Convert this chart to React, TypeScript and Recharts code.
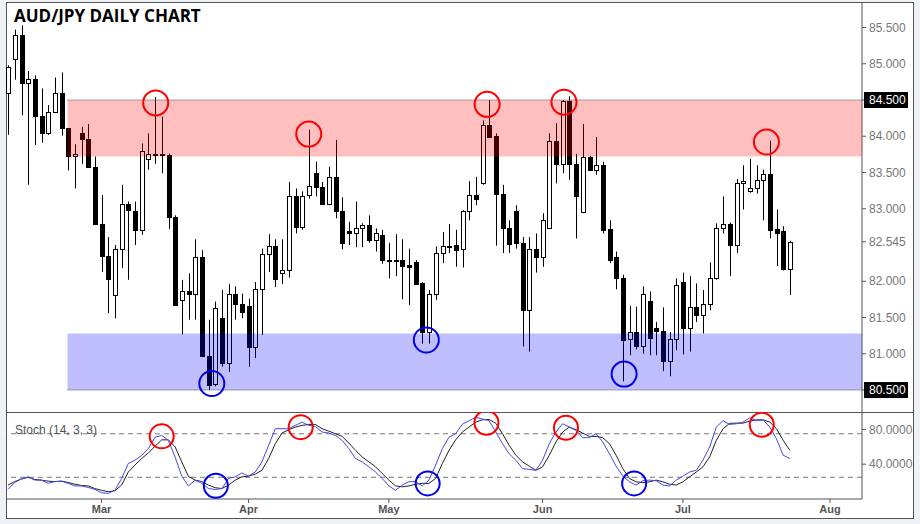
import { ComposedChart, LineChart, Bar, Line, XAxis, YAxis, ReferenceArea, ReferenceLine, ReferenceDot } from 'recharts';

// daily bars, Feb 9 .. Jul 24 (weekdays), index = bar number
const openP = [84.59, 85.06, 85.40, 84.73, 84.79, 84.28, 84.05, 84.33, 84.59, 84.11, 83.73, 84.04, 83.96, 83.58, 82.79, 82.35, 81.81, 82.45, 83.07, 82.97,
  82.71, 83.68, 83.76, 83.75, 83.74, 82.89, 81.74, 81.86, 81.83, 82.34, 80.97, 80.59, 81.49, 80.87, 81.82, 81.68, 81.66, 81.10, 81.90, 82.38,
  82.48, 82.12, 82.15, 83.17, 82.75, 83.19, 83.50, 83.30, 83.06, 83.44, 82.97, 82.69, 82.66, 82.73, 82.77, 82.57, 82.64, 82.30, 82.29, 82.29,
  82.22, 82.27, 81.97, 81.30, 81.83, 82.39, 82.48, 82.50, 82.44, 82.97, 83.19, 83.36, 84.16, 84.00, 83.21, 82.74, 82.97, 82.53, 81.61, 82.45,
  82.33, 82.73, 83.93, 83.62, 84.48, 83.62, 82.95, 83.72, 83.53, 83.61, 82.72, 82.34, 82.05, 81.20, 81.30, 81.11, 81.73, 81.35, 81.32, 80.90,
  81.21, 81.99, 81.35, 81.65, 81.53, 81.68, 82.05, 82.74, 82.79, 82.50, 83.36, 83.24, 83.29, 83.39, 83.48, 82.72, 82.69, 82.17];
const highP = [84.98, 85.47, 85.53, 84.90, 84.84, 84.66, 84.43, 84.81, 84.88, 84.11, 83.89, 84.13, 84.17, 83.72, 83.19, 82.61, 82.50, 83.33, 83.10, 83.10,
  83.90, 84.04, 84.54, 84.27, 83.76, 82.91, 82.02, 82.11, 82.58, 82.43, 81.47, 81.72, 81.88, 81.96, 81.93, 81.83, 81.76, 81.99, 82.45, 82.65,
  82.58, 82.58, 83.37, 83.28, 83.24, 84.09, 83.65, 83.37, 83.58, 83.95, 83.16, 82.82, 83.10, 82.80, 82.91, 82.73, 82.71, 82.53, 82.65, 82.58,
  82.45, 82.29, 81.99, 81.88, 82.48, 82.68, 82.79, 82.71, 82.98, 83.38, 83.44, 84.22, 84.50, 84.04, 83.33, 82.84, 83.05, 82.61, 82.61, 82.66,
  82.94, 84.04, 84.18, 84.50, 84.55, 83.76, 84.17, 83.73, 83.99, 83.65, 82.84, 82.41, 82.09, 81.66, 81.65, 81.93, 81.86, 81.44, 81.64, 81.30,
  82.04, 82.12, 82.07, 81.97, 81.88, 82.26, 82.80, 83.17, 82.81, 83.41, 83.60, 83.69, 83.60, 83.54, 83.94, 82.99, 82.76, 82.56];
const lowP = [84.02, 84.78, 84.29, 83.33, 83.88, 83.91, 84.02, 84.32, 84.01, 83.53, 83.28, 83.62, 83.58, 82.79, 82.13, 81.56, 81.49, 82.18, 82.02, 82.50,
  82.64, 83.54, 83.62, 83.49, 82.72, 81.67, 81.27, 81.47, 81.47, 80.97, 80.50, 80.55, 80.82, 80.75, 81.47, 81.49, 80.82, 80.94, 81.26, 82.13,
  81.92, 81.96, 82.05, 82.66, 82.71, 83.14, 83.17, 83.06, 83.05, 82.87, 82.44, 82.50, 82.47, 82.47, 82.53, 82.41, 82.24, 82.04, 82.07, 81.75,
  81.67, 81.96, 81.14, 81.14, 81.74, 82.25, 82.39, 82.20, 82.19, 82.84, 83.05, 83.33, 83.99, 82.49, 82.39, 82.39, 82.45, 81.10, 81.03, 82.12,
  82.20, 82.72, 83.35, 83.49, 83.40, 82.59, 82.94, 83.53, 83.47, 82.66, 82.25, 81.89, 80.62, 80.98, 81.06, 81.00, 80.98, 80.98, 80.76, 80.69,
  81.05, 80.99, 81.03, 81.44, 81.28, 81.60, 82.02, 82.66, 82.07, 82.39, 82.99, 83.22, 83.21, 82.84, 82.59, 82.21, 82.15, 81.81];
const closeP = [84.96, 85.40, 84.73, 84.79, 84.28, 84.04, 84.33, 84.59, 84.11, 83.73, 83.75, 83.96, 83.58, 82.79, 82.35, 82.03, 82.45, 83.07, 82.98, 82.71,
  83.79, 83.76, 83.75, 83.74, 82.89, 81.67, 81.86, 81.83, 82.34, 80.97, 80.57, 81.63, 80.87, 81.82, 81.68, 81.58, 81.10, 81.90, 82.37, 82.48,
  82.03, 82.16, 83.17, 82.75, 83.18, 83.31, 83.30, 83.06, 83.44, 82.97, 82.53, 82.66, 82.73, 82.77, 82.57, 82.66, 82.30, 82.29, 82.30, 82.21,
  82.19, 81.96, 81.30, 81.83, 82.39, 82.48, 82.49, 82.43, 82.97, 83.19, 83.13, 84.16, 83.99, 83.21, 82.74, 82.52, 82.53, 81.61, 82.45, 82.33,
  82.84, 83.93, 83.62, 84.48, 83.62, 83.17, 83.72, 83.53, 83.61, 82.71, 82.29, 82.05, 81.19, 81.30, 81.11, 81.82, 81.22, 81.32, 80.90, 81.21,
  81.95, 81.35, 81.65, 81.53, 81.68, 82.05, 82.74, 82.79, 82.50, 83.36, 83.38, 83.29, 83.39, 83.48, 82.71, 82.66, 82.17, 82.545];

// Stoch (14, 3, 3): %K blue, %D black
const stochK = [11, 19, 23, 25.5, 21.7, 21.7, 18, 20, 20.5, 18, 15, 15, 13.3, 11, 7.2, 6.5, 10, 23.6, 40.8, 44.6,
  50, 58, 71, 73, 67.4, 48.4, 26.3, 15, 21.7, 18, 12, 11, 12, 23.6, 25.5, 30, 26.3, 31, 42.7, 61.7,
  80.8, 80.8, 80.8, 84.6, 88.4, 84.6, 83.4, 77, 75.8, 73, 67.4, 58, 46.5, 42.7, 37, 31, 23.6, 15, 10, 16,
  20, 20, 15, 21.7, 39, 58, 71, 75, 86, 90, 94, 92, 90, 77, 63.6, 52, 44.6, 35, 34, 33,
  44.6, 63.6, 77, 86.5, 82.7, 78.9, 70.5, 70.5, 75, 65.5, 52, 37.7, 26.3, 19.8, 16, 21, 21.7, 21, 16, 15,
  21.7, 26.3, 31, 33, 44.6, 59.8, 82.7, 90, 85.7, 86.5, 88.4, 93.3, 90, 91, 82.7, 69.3, 50.3, 46.5];
const stochD = [16, 20, 23, 25, 22.5, 21.7, 20.5, 20, 20.5, 19, 17, 15.6, 15, 12, 10, 8.4, 9.5, 16, 31, 39,
  46.5, 53, 60.6, 68, 68, 60, 42.7, 26, 21.7, 20, 16, 13, 12, 16, 21.7, 25.5, 26.3, 28.6, 33, 46.5,
  63.6, 75.8, 79.6, 82.7, 84.6, 85.7, 85.7, 80.8, 78, 75, 72, 64.4, 56, 48.4, 42.7, 37, 29.3, 21.7, 15, 14,
  15, 17, 18, 18, 23.6, 40.8, 56, 68, 77, 82.7, 88.4, 91, 91.4, 87, 75, 61.7, 50.3, 42.7, 37.7, 33,
  37, 50.3, 65.5, 77, 82.7, 79.6, 75.8, 72, 72, 70.5, 63.6, 50.3, 35, 23.6, 19.8, 18.7, 19.8, 21.7, 19.8, 17,
  16, 19.8, 25.5, 31, 37, 48.4, 67.4, 80.8, 87, 87.2, 87.2, 89.5, 91, 91, 88.4, 80.8, 67.4, 56];

const monthTicks = [14, 36, 57, 80, 101, 123];
const monthLabels = ['Mar', 'Apr', 'May', 'Jun', 'Jul', 'Aug'];
const priceTicks = [85.5, 85, 84.5, 84, 83.5, 83, 82.545, 82, 81.5, 81, 80.5];
const boxedTicks = [84.5, 80.5];
const stochTicks = [80, 40];
const stochBands = [75, 25];

const resistance = [83.72, 84.5];
const support = [80.5, 81.28];
const zoneStart = 8.9;

const priceHighMarks = [[22.1, 84.46], [45, 84.03], [71.7, 84.44], [83.2, 84.47], [113.5, 83.92]];
const priceLowMarks = [[30.5, 80.59], [62.6, 81.19], [92.2, 80.72]];
const stochHighMarks = [[23, 72], [43.8, 82.6], [71.6, 87.6], [83.5, 81.9], [112.8, 85.3]];
const stochLowMarks = [[31.1, 15.2], [62.8, 17.9], [93.7, 17.9]];

const xDomain = [-0.3, 127.8];
const priceDomain = [80.197, 85.838];

const rows = openP.map((o, i) => ({
  i, open: o, high: highP[i], low: lowP[i], close: closeP[i],
  range: [lowP[i], highP[i]], k: stochK[i], d: stochD[i],
}));

function Candle(props: any) {
  const { x, y, width, height, payload } = props;
  if (x == null || y == null) return null;
  const top = Math.min(y, y + height);
  const bot = Math.max(y, y + height);
  const span = payload.high - payload.low;
  const py = (v: number) => (span > 0 ? top + ((payload.high - v) / span) * (bot - top) : top);
  const c = Math.round(x + width / 2);
  const yo = py(payload.open);
  const yc = py(payload.close);
  const up = payload.close >= payload.open;
  const bt = Math.round(Math.min(yo, yc)) + 0.5;
  const bb = Math.round(Math.max(yo, yc)) + 0.5;
  return (
    <g>
      <line x1={c + 0.5} x2={c + 0.5} y1={top} y2={bot} stroke="#000" strokeWidth={1} />
      <rect x={c - 1.5} y={bt} width={4} height={Math.max(bb - bt, 1)} fill={up ? '#fff' : '#000'} stroke="#000" strokeWidth={1} />
    </g>
  );
}

function PriceTick(props: any) {
  const { x, y, payload } = props;
  const v = payload.value;
  const boxed = boxedTicks.includes(v);
  return (
    <g>
      {boxed && <rect x={x - 5} y={y - 8} width={44} height={16} fill="#000" />}
      <text x={x} y={y} dy={4} fontSize={12} fontFamily="Liberation Sans, Arial, sans-serif" fill={boxed ? '#fff' : '#777'}>
        {v.toFixed(3)}
      </text>
    </g>
  );
}

export default function App() {
  return (
    <div style={{ position: 'absolute', left: 0, top: 0, width: 920, height: 524, background: '#eef2f6', overflow: 'hidden' }}>
      <div style={{ position: 'absolute', left: 6, top: 2, width: 908, height: 517, border: '1px solid #555', boxSizing: 'border-box', background: '#fff' }} />

      <div style={{ position: 'absolute', left: 0, top: 0 }}>
        <ComposedChart width={920} height={413} data={rows} margin={{ top: 3, right: 7, bottom: 1, left: 6 }}>
          <XAxis dataKey="i" type="number" domain={xDomain} allowDataOverflow hide />
          <YAxis
            orientation="right"
            width={51}
            domain={priceDomain}
            allowDataOverflow
            ticks={priceTicks}
            interval={0}
            tick={<PriceTick />}
            tickSize={4}
            tickMargin={3}
            tickLine={{ stroke: '#555' }}
            axisLine={{ stroke: '#555' }}
          />
          <Bar dataKey="range" barSize={5} shape={<Candle />} isAnimationActive={false} />
          <ReferenceArea x1={zoneStart} x2={xDomain[1]} y1={resistance[0]} y2={resistance[1]} fill="#ff0000" fillOpacity={0.25} stroke="none" ifOverflow="hidden" zIndex={600} />
          <ReferenceArea x1={zoneStart} x2={xDomain[1]} y1={support[0]} y2={support[1]} fill="#0000ff" fillOpacity={0.25} stroke="none" ifOverflow="hidden" zIndex={600} />
          <ReferenceLine segment={[{ x: zoneStart, y: resistance[1] }, { x: xDomain[1], y: resistance[1] }]} stroke="#555" strokeDasharray="1 1" ifOverflow="hidden" zIndex={610} />
          <ReferenceLine segment={[{ x: zoneStart, y: support[0] }, { x: xDomain[1], y: support[0] }]} stroke="#555" strokeDasharray="1 1" ifOverflow="hidden" zIndex={610} />
          {priceHighMarks.map(([mx, my], n) => (
            <ReferenceDot key={'ph' + n} x={mx} y={my} r={12.5} fill="none" stroke="#ff0000" strokeWidth={2} zIndex={620} />
          ))}
          {priceLowMarks.map(([mx, my], n) => (
            <ReferenceDot key={'pl' + n} x={mx} y={my} r={12.5} fill="none" stroke="#0000ee" strokeWidth={2} zIndex={620} />
          ))}
        </ComposedChart>
      </div>

      <div style={{ position: 'absolute', left: 6, top: 412, width: 908, height: 1, background: '#555' }} />

      <div style={{ position: 'absolute', left: 0, top: 412 }}>
        <LineChart width={920} height={112} data={rows} margin={{ top: 0, right: 7, bottom: 5, left: 6 }}>
          <XAxis
            dataKey="i"
            type="number"
            domain={xDomain}
            allowDataOverflow
            ticks={monthTicks}
            interval={0}
            height={20}
            tickFormatter={(v: number) => monthLabels[monthTicks.indexOf(v)]}
            tick={{ fontSize: 11, fontWeight: 700, fill: '#555', fontFamily: 'Liberation Sans, Arial, sans-serif' }}
            tickSize={4}
            tickMargin={2}
            tickLine={{ stroke: '#555' }}
            axisLine={{ stroke: '#555' }}
          />
          <YAxis
            orientation="right"
            width={51}
            domain={[0, 100]}
            ticks={stochTicks}
            interval={0}
            tickFormatter={(v: number) => v.toFixed(4)}
            tick={{ fontSize: 12, fill: '#777', fontFamily: 'Liberation Sans, Arial, sans-serif', textAnchor: 'start' }}
            tickSize={4}
            tickMargin={3}
            tickLine={{ stroke: '#555' }}
            axisLine={{ stroke: '#555' }}
          />
          {stochBands.map((b) => (
            <ReferenceLine key={b} y={b} stroke="#777" strokeDasharray="5 4" />
          ))}
          <Line type="linear" dataKey="d" stroke="#222" strokeWidth={1} dot={false} isAnimationActive={false} />
          <Line type="linear" dataKey="k" stroke="#4646f0" strokeWidth={1} dot={false} isAnimationActive={false} />
          {stochHighMarks.map(([mx, my], n) => (
            <ReferenceDot key={'sh' + n} x={mx} y={my} r={12} fill="none" stroke="#ff0000" strokeWidth={2} zIndex={620} />
          ))}
          {stochLowMarks.map(([mx, my], n) => (
            <ReferenceDot key={'sl' + n} x={mx} y={my} r={12} fill="none" stroke="#0000ee" strokeWidth={2} zIndex={620} />
          ))}
        </LineChart>
      </div>

      <div style={{ position: 'absolute', left: 14, top: 4, fontFamily: '"Open Sans", sans-serif', fontWeight: 700, fontSize: 17, color: '#000', whiteSpace: 'nowrap' }}>
        AUD/JPY DAILY CHART
      </div>
      <div style={{ position: 'absolute', left: 15, top: 423, fontFamily: '"Liberation Sans", Arial, sans-serif', fontSize: 12, color: '#555', whiteSpace: 'nowrap' }}>
        Stoch (14, 3, 3)
      </div>
    </div>
  );
}
